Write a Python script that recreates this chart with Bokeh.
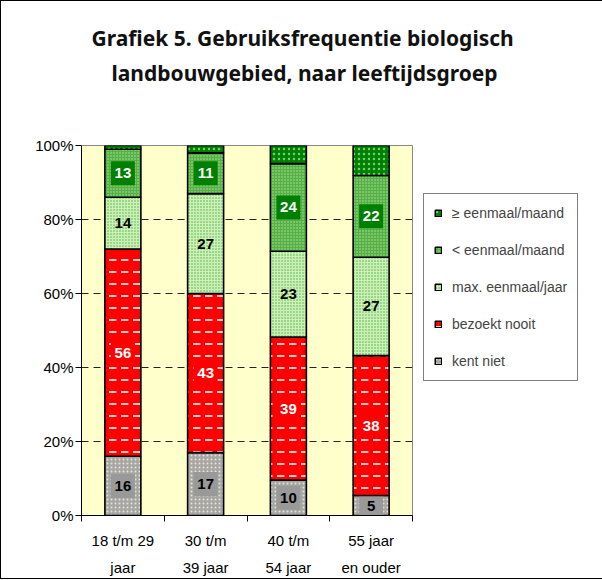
import numpy as np
from bokeh.plotting import figure
from bokeh.models import (ColumnDataSource, Range1d, FixedTicker, Legend, LegendItem,
                          Title, CustomJSTickFormatter)
from bokeh.core.properties import value
from bokeh.embed import file_html
from bokeh.resources import INLINE

# ---------------- data ----------------
title_lines = ["Grafiek 5. Gebruiksfrequentie biologisch",
               "landbouwgebied, naar leeftijdsgroep"]
categories = ["18 t/m 29\njaar", "30 t/m\n39 jaar", "40 t/m\n54 jaar", "55 jaar\nen ouder"]
series_names = ["kent niet", "bezoekt nooit", "max. eenmaal/jaar",
                "< eenmaal/maand", "\u2265 eenmaal/maand"]
kent_niet = [16, 17, 9.6, 5.4]
bezoekt_nooit = [56, 43, 38.6, 37.8]
max_eenmaal_jaar = [14, 27, 23.2, 26.6]
minder_eenmaal_maand = [13, 11, 23.7, 22.1]
eenmaal_maand_of_meer = [1, 2, 4.9, 8.1]
y_ticks = [0, 20, 40, 60, 80, 100]
y_tick_labels = ["0%", "20%", "40%", "60%", "80%", "100%"]

series_values = [kent_niet, bezoekt_nooit, max_eenmaal_jaar,
                 minder_eenmaal_maand, eenmaal_maand_of_meer]

# ---------------- styles ----------------
fills = ["#A6A6A6", "#FF0000", "#CCF0B8", "#55B045", "#008000"]
hatch_patterns = ["dot", "horizontal_dash", "dot", "dot", "dot"]
hatch_colors = ["#E4E4CC", "#FFC8C8", "#4CAF3A", "#B0E0A0", "#70D070"]
hatch_scales = [4, 12, 3, 3, 5]
hatch_weights = [1, 2, 1, 1, 1.5]
box_colors = ["#999999", "#FF0000", None, "#008000", None]
text_colors = ["black", "white", "black", "white", None]

FRAME_W, FRAME_H = 331, 370
ML, MT = 80, 144

n = len(categories)
xs = np.arange(n) + 0.5

p = figure(frame_width=FRAME_W, frame_height=FRAME_H,
           output_backend="svg", toolbar_location=None, title=None,
           x_range=Range1d(0, n), y_range=Range1d(0, 100),
           min_border_left=ML, min_border_top=MT,
           min_border_right=100, min_border_bottom=40,
           background_fill_color="#FFFFCC", border_fill_color="white",
           outline_line_color="#888888", outline_line_width=1)
p.styles = {"border": "1px solid black"}

bottoms = np.zeros(n)
renderers = []
for i, vals in enumerate(series_values):
    v = np.array(vals, dtype=float)
    src = ColumnDataSource(dict(x=xs, bottom=bottoms, top=bottoms + v))
    r = p.vbar(x="x", bottom="bottom", top="top", width=0.435, source=src,
               fill_color=fills[i], line_color="black", line_width=1.6,
               hatch_pattern=hatch_patterns[i], hatch_color=hatch_colors[i],
               hatch_scale=hatch_scales[i], hatch_weight=hatch_weights[i])
    renderers.append(r)
    if text_colors[i] is not None:
        lsrc = ColumnDataSource(dict(x=xs, y=bottoms + v / 2,
                                     t=[f"{int(val + 0.5)}" for val in v]))
        if box_colors[i] is not None:
            p.scatter(x="x", y="y", source=lsrc, marker="square", size=24,
                      fill_color=box_colors[i], line_color=None)
        p.text(x="x", y="y", text="t", source=lsrc, text_align="center",
               text_baseline="middle", text_color=text_colors[i],
               text_font=value("Liberation Sans"), text_font_style="bold",
               text_font_size="15px")
    bottoms = bottoms + v

# axes
p.xgrid.grid_line_color = None
p.ygrid.grid_line_color = "#222222"
p.ygrid.grid_line_dash = "7 5"
p.ygrid.grid_line_width = 1

p.yaxis.ticker = FixedTicker(ticks=y_ticks)
p.yaxis.major_label_overrides = {t: l for t, l in zip(y_ticks, y_tick_labels)}
p.yaxis.major_tick_out = 6
p.yaxis.major_tick_in = 0
p.yaxis.minor_tick_line_color = None
p.yaxis.axis_line_color = "black"
p.yaxis.major_label_standoff = 2
p.yaxis.major_label_text_font = "Liberation Sans"
p.yaxis.major_label_text_font_size = "15px"
p.yaxis.major_label_text_color = "black"

p.xaxis.ticker = FixedTicker(ticks=list(xs), minor_ticks=list(np.arange(n + 1)))
p.xaxis.formatter = CustomJSTickFormatter(args=dict(labels=categories),
                                          code="return labels[Math.floor(tick)];")
p.xaxis.major_tick_line_color = None
p.xaxis.minor_tick_out = 6
p.xaxis.minor_tick_in = 0
p.xaxis.minor_tick_line_color = "black"
p.xaxis.axis_line_color = "black"
p.xaxis.major_label_standoff = 10
p.xaxis.major_label_text_font = "Liberation Sans"
p.xaxis.major_label_text_font_size = "15px"
p.xaxis.major_label_text_color = "black"
p.xaxis.major_label_text_line_height = 1.6

# legend
items = [LegendItem(label=series_names[i], renderers=[renderers[i]])
         for i in reversed(range(len(series_names)))]
legend = Legend(items=items, location=(11, 134), glyph_width=8, glyph_height=8,
                label_height=18, spacing=19, padding=10, margin=0, label_standoff=10,
                label_text_font="Liberation Sans", label_text_font_size="14px",
                border_line_color="black", border_line_width=1,
                background_fill_color="white", background_fill_alpha=1)
p.add_layout(legend, "right")

# title: spacer closest to the frame, then line 2, then line 1
title_kw = dict(align="left", text_font="Noto Sans", text_font_style="bold",
                text_font_size="21px", text_color="#111111")
p.add_layout(Title(text=" ", align="left", text_font_size="1px", standoff=56), "above")
p.add_layout(Title(text=title_lines[1], offset=30, standoff=0, **title_kw), "above")
p.add_layout(Title(text=title_lines[0], offset=10, standoff=10, **title_kw), "above")

open("out.html", "w").write(file_html(p, INLINE))
